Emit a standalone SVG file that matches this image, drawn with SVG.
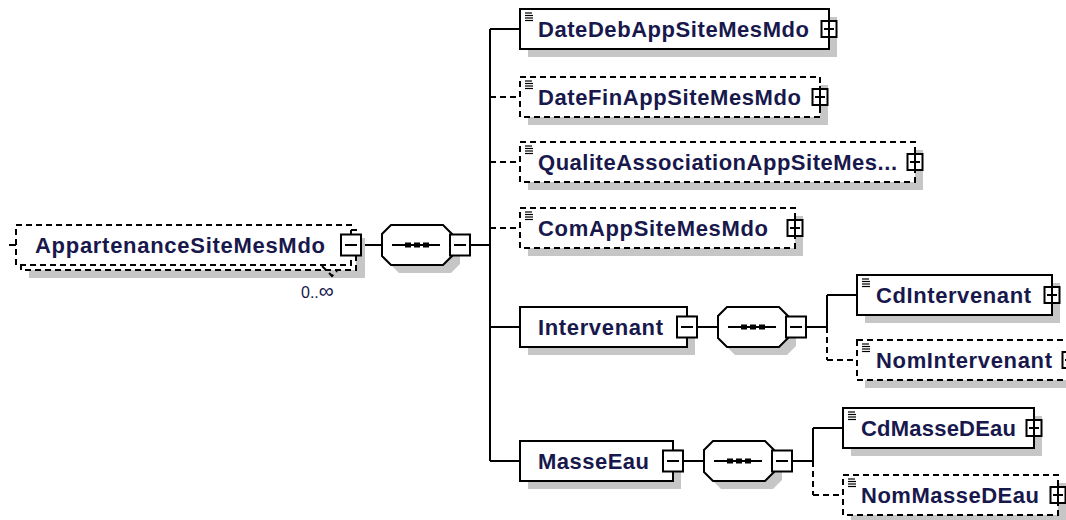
<svg xmlns="http://www.w3.org/2000/svg" xmlns:xlink="http://www.w3.org/1999/xlink" width="1066" height="520" viewBox="0 0 1066 520">
<style>
.sh{fill:#c6c6c6;stroke:none}
.bx{fill:#fff;stroke:#000;stroke-width:2}
.opt{stroke-dasharray:6 4}
.ln{fill:none;stroke:#000;stroke-width:2}
.dl{stroke-dasharray:6 4}
.lbl{font-family:"Liberation Sans",Arial,sans-serif;font-weight:bold;font-size:22px;fill:#18184c}
.card{font-family:"Liberation Sans",Arial,sans-serif;font-size:16px;fill:#18184c}
.ic{stroke:#000;stroke-width:1.2}
</style>
<defs>
<g id="minus">
<rect x="-10" y="-10.5" width="20" height="21" fill="#fff" stroke="#000" stroke-width="2"/>
<line x1="-6" y1="0" x2="6" y2="0" stroke="#000" stroke-width="2"/>
</g>
<g id="plus">
<rect x="-7.5" y="-8" width="15" height="16" fill="#fff" stroke="#000" stroke-width="2"/>
<line x1="-5" y1="0" x2="5" y2="0" stroke="#000" stroke-width="2"/>
<line x1="0" y1="-11" x2="0" y2="11" stroke="#000" stroke-width="2"/>
</g>
<g id="icon">
<line class="ic" x1="5" y1="4" x2="12" y2="4"/>
<line class="ic" x1="5" y1="6.5" x2="13" y2="6.5"/>
<line class="ic" x1="5" y1="9" x2="13" y2="9"/>
<line class="ic" x1="5" y1="11.5" x2="13" y2="11.5"/>
</g>
<g id="seq">
<path class="sh" d="M17,-12 H69 L78,-3 V19 L69,28 H17 L8,19 V-3 Z"/>
<path d="M9,-20 H61 L70,-11 V11 L61,20 H9 L0,11 V-11 Z" fill="#fff" stroke="#000" stroke-width="2"/>
<line x1="10" y1="0" x2="58" y2="0" stroke="#000" stroke-width="2"/>
<rect x="23" y="-2.5" width="6" height="5" fill="#000"/>
<rect x="32" y="-2.5" width="6" height="5" fill="#000"/>
<rect x="41" y="-2.5" width="6" height="5" fill="#000"/>
<use xlink:href="#minus" x="78" y="0"/>
</g>
</defs>

<g id="connectors">
<line class="ln" x1="9" y1="245" x2="16" y2="245"/>
<line class="ln" x1="361" y1="245" x2="382" y2="245"/>
<line class="ln" x1="470" y1="245" x2="490" y2="245"/>
<line class="ln" x1="490" y1="29" x2="490" y2="461"/>
<line class="ln" x1="490" y1="29" x2="520" y2="29"/>
<line class="ln dl" x1="490" y1="97" x2="520" y2="97"/>
<line class="ln dl" x1="490" y1="162" x2="520" y2="162"/>
<line class="ln dl" x1="490" y1="228" x2="520" y2="228"/>
<line class="ln" x1="490" y1="327" x2="520" y2="327"/>
<line class="ln" x1="490" y1="461" x2="520" y2="461"/>
<line class="ln" x1="697" y1="327" x2="718" y2="327"/>
<line class="ln" x1="806" y1="327" x2="827" y2="327"/>
<line class="ln" x1="827" y1="295" x2="827" y2="327"/>
<line class="ln dl" x1="827" y1="327" x2="827" y2="360"/>
<line class="ln" x1="827" y1="295" x2="857" y2="295"/>
<line class="ln dl" x1="827" y1="360" x2="857" y2="360"/>
<line class="ln" x1="683" y1="461" x2="704" y2="461"/>
<line class="ln" x1="792" y1="461" x2="813" y2="461"/>
<line class="ln" x1="813" y1="428" x2="813" y2="461"/>
<line class="ln dl" x1="813" y1="461" x2="813" y2="495"/>
<line class="ln" x1="813" y1="428" x2="843" y2="428"/>
<line class="ln dl" x1="813" y1="495" x2="843" y2="495"/>
</g>

<g id="node-AppartenanceSiteMesMdo">
<rect class="sh" x="29" y="238" width="336" height="40"/>
<rect class="bx opt" x="21" y="230" width="335" height="40"/>
<rect class="bx opt" x="16" y="225" width="335" height="40"/>
<text class="lbl" x="35" y="253" textLength="290" lengthAdjust="spacing">AppartenanceSiteMesMdo</text>
<use xlink:href="#minus" x="351" y="245"/>
<polyline class="ln dl" points="322,266 332,276 337,271" stroke-width="1.5"/>
<text class="card" x="301" y="298">0..<tspan font-size="21px">∞</tspan></text>
</g>

<g id="node-seq-main"><use xlink:href="#seq" x="382" y="245"/></g>

<g id="node-DateDebAppSiteMesMdo">
<rect class="sh" x="528" y="17" width="309" height="40"/>
<rect class="bx" x="520" y="9" width="309" height="40"/>
<use xlink:href="#icon" x="520" y="9"/>
<text class="lbl" x="538" y="37" textLength="271" lengthAdjust="spacing">DateDebAppSiteMesMdo</text>
<use xlink:href="#plus" x="829" y="29"/>
</g>

<g id="node-DateFinAppSiteMesMdo">
<rect class="sh" x="528" y="85" width="300" height="40"/>
<rect class="bx opt" x="520" y="77" width="300" height="40"/>
<use xlink:href="#icon" x="520" y="77"/>
<text class="lbl" x="538" y="105" textLength="263" lengthAdjust="spacing">DateFinAppSiteMesMdo</text>
<use xlink:href="#plus" x="820" y="97"/>
</g>

<g id="node-QualiteAssociationAppSiteMes">
<rect class="sh" x="528" y="150" width="395" height="40"/>
<rect class="bx opt" x="520" y="142" width="395" height="40"/>
<use xlink:href="#icon" x="520" y="142"/>
<text class="lbl" x="538" y="170" textLength="359" lengthAdjust="spacing">QualiteAssociationAppSiteMes...</text>
<use xlink:href="#plus" x="915" y="162"/>
</g>

<g id="node-ComAppSiteMesMdo">
<rect class="sh" x="528" y="216" width="275" height="40"/>
<rect class="bx opt" x="520" y="208" width="275" height="40"/>
<use xlink:href="#icon" x="520" y="208"/>
<text class="lbl" x="538" y="236" textLength="230" lengthAdjust="spacing">ComAppSiteMesMdo</text>
<use xlink:href="#plus" x="795" y="228"/>
</g>

<g id="node-Intervenant">
<rect class="sh" x="528" y="315" width="167" height="40"/>
<rect class="bx" x="520" y="307" width="167" height="40"/>
<text class="lbl" x="538" y="335" textLength="125" lengthAdjust="spacing">Intervenant</text>
<use xlink:href="#minus" x="687" y="327"/>
</g>

<g id="node-seq-Intervenant"><use xlink:href="#seq" x="718" y="327"/></g>

<g id="node-CdIntervenant">
<rect class="sh" x="865" y="283" width="195" height="40"/>
<rect class="bx" x="857" y="275" width="195" height="40"/>
<use xlink:href="#icon" x="857" y="275"/>
<text class="lbl" x="876" y="303" textLength="155" lengthAdjust="spacing">CdIntervenant</text>
<use xlink:href="#plus" x="1052" y="295"/>
</g>

<g id="node-NomIntervenant">
<rect class="sh" x="865" y="348" width="213" height="40"/>
<rect class="bx opt" x="857" y="340" width="213" height="40"/>
<use xlink:href="#icon" x="857" y="340"/>
<text class="lbl" x="876" y="368" textLength="176" lengthAdjust="spacing">NomIntervenant</text>
<use xlink:href="#plus" x="1070" y="360"/>
</g>

<g id="node-MasseEau">
<rect class="sh" x="528" y="449" width="153" height="40"/>
<rect class="bx" x="520" y="441" width="153" height="40"/>
<text class="lbl" x="538" y="469" textLength="111" lengthAdjust="spacing">MasseEau</text>
<use xlink:href="#minus" x="673" y="461"/>
</g>

<g id="node-seq-MasseEau"><use xlink:href="#seq" x="704" y="461"/></g>

<g id="node-CdMasseDEau">
<rect class="sh" x="851" y="416" width="191" height="40"/>
<rect class="bx" x="843" y="408" width="191" height="40"/>
<use xlink:href="#icon" x="843" y="408"/>
<text class="lbl" x="861" y="436" textLength="155" lengthAdjust="spacing">CdMasseDEau</text>
<use xlink:href="#plus" x="1034" y="428"/>
</g>

<g id="node-NomMasseDEau">
<rect class="sh" x="851" y="483" width="215" height="40"/>
<rect class="bx opt" x="843" y="475" width="215" height="40"/>
<use xlink:href="#icon" x="843" y="475"/>
<text class="lbl" x="861" y="503" textLength="178" lengthAdjust="spacing">NomMasseDEau</text>
<use xlink:href="#plus" x="1058" y="495"/>
</g>
</svg>
